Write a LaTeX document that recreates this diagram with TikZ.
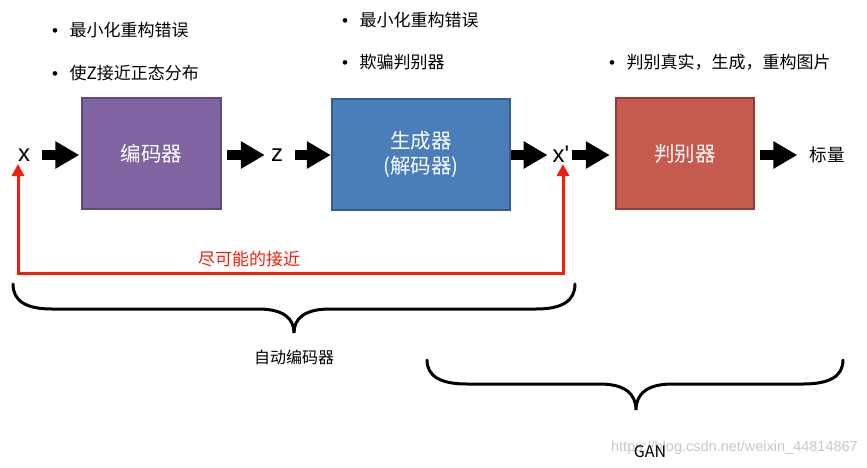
\documentclass[tikz,border=0pt]{standalone}
\usepackage{fontspec}
\setmainfont{Noto Sans CJK SC}
\newfontfamily\latinf{Liberation Sans}
\usetikzlibrary{arrows.meta}
\definecolor{encfill}{HTML}{8064A2}
\definecolor{encdraw}{HTML}{5F4A7C}
\definecolor{genfill}{HTML}{4A7EBB}
\definecolor{gendraw}{HTML}{385D8A}
\definecolor{disfill}{HTML}{C55A4F}
\definecolor{disdraw}{HTML}{943C38}
\definecolor{linkred}{HTML}{F01E0A}
\tikzset{
  box/.style={draw, line width=2.5pt, minimum height=111pt, text=white, align=center,
    font=\fontsize{20.5}{25}\selectfont, inner sep=0pt},
  lbl/.style={inner sep=0pt, font=\latinf\fontsize{24}{26}\selectfont},
  blk/.style={line width=10.5pt, -{Triangle[length=24pt,width=26pt]}},
  bul/.style={anchor=west, inner sep=0pt, font=\fontsize{17}{20}\selectfont},
  redlink/.style={draw=linkred, line width=3pt, {Triangle[length=12pt,width=12pt]}-{Triangle[length=12pt,width=12pt]}},
  brace/.style={line width=3pt, line cap=round},
  caption/.style={inner sep=0pt, font=\fontsize{16}{18}\selectfont}
}
\newcommand{\bl}{\makebox[17.5pt][l]{\latinf •}}
\begin{document}
\begin{tikzpicture}[x=1pt,y=-1pt]
\useasboundingbox (0,0) rectangle (867,467);

% watermark
\node[inner sep=0pt, anchor=east, text=black!22, font=\latinf\fontsize{14.5}{16}\selectfont] (wm) at (858,448) {https://blog.csdn.net/weixin\_44814867};

% bullets
\node[bul] (b1) at (52,30) {\bl 最小化重构错误};
\node[bul] (b2) at (52,73) {\bl 使Z接近正态分布};
\node[bul] (b3) at (342,20) {\bl 最小化重构错误};
\node[bul] (b4) at (342,62) {\bl 欺骗判别器};
\node[bul] (b5) at (609,62) {\bl 判别真实，生成，重构图片};

% boxes
\node[box, fill=encfill, draw=encdraw, minimum width=139pt] (enc) at (151.5,153.5) {编码器};
\node[box, fill=genfill, draw=gendraw, minimum width=178pt] (gen) at (421,154.5) {生成器\\(解码器)};
\node[box, fill=disfill, draw=disdraw, minimum width=138pt] (dis) at (685,153.5) {判别器};

% labels
\node[lbl] (x) at (24,155) {x};
\node[lbl] (z) at (277,155) {z};
\node[lbl, anchor=base] (xp) at (561,162) {x\symbol{39}};
\node[inner sep=0pt, font=\fontsize{17.5}{20}\selectfont] (out) at (827,155) {标量};

% block arrows
\draw[blk, shorten <=12pt, shorten >=1.5pt] (x.east |- 0,155) -- (enc.west |- 0,155);
\draw[blk, shorten <=5pt, shorten >=6pt] (enc.east |- 0,155) -- (z.west |- 0,155);
\draw[blk, shorten <=12pt, shorten >=0pt] (z.east |- 0,155) -- (gen.west |- 0,155);
\draw[blk, shorten <=0pt, shorten >=5pt] (gen.east |- 0,155) -- (xp.west |- 0,155);
\draw[blk, shorten <=3pt, shorten >=5pt] (xp.east |- 0,155) -- (dis.west |- 0,155);
\draw[blk, shorten <=5pt, shorten >=12pt] (dis.east |- 0,155) -- (out.west |- 0,155);

% red link
\coordinate (r1) at (18,273);
\coordinate (r2) at (563,273);
\draw[redlink] (18,164) -- (r1) -- (r2) -- (563,164);
\node[inner sep=0pt, text=linkred, font=\fontsize{17}{20}\selectfont] (near) at (249,259) {尽可能的接近};

% braces
\draw[brace] (13,284) .. controls (13,301) and (26,309) .. (52,309) -- (258,309)
  .. controls (283,309) and (294,318) .. (294,333)
  .. controls (294,318) and (305,309) .. (330,309) -- (536,309)
  .. controls (562,309) and (575,301) .. (575,284);
\node[caption] (ae) at (294,357) {自动编码器};

\draw[brace] (427,360) .. controls (427,376) and (440,384) .. (467,384) -- (600,384)
  .. controls (625,384) and (636,394) .. (636,410)
  .. controls (636,394) and (647,384) .. (672,384) -- (803,384)
  .. controls (830,384) and (843,376) .. (843,360);
\node[caption] (gan) at (650,452) {GAN};
\end{tikzpicture}
\end{document}
